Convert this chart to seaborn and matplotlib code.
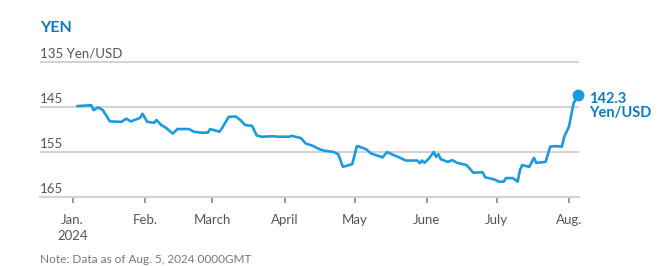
import matplotlib
matplotlib.use("Agg")
import matplotlib.pyplot as plt
import matplotlib.transforms as mtransforms
import seaborn as sns
import pandas as pd

dates = [
    "2024-01-03", "2024-01-09", "2024-01-10", "2024-01-12", "2024-01-14", "2024-01-17",
    "2024-01-22", "2024-01-24", "2024-01-26", "2024-01-29", "2024-01-30", "2024-01-31",
    "2024-02-02", "2024-02-05", "2024-02-06", "2024-02-08", "2024-02-10", "2024-02-13",
    "2024-02-15", "2024-02-20", "2024-02-22", "2024-02-25", "2024-02-28", "2024-02-29",
    "2024-03-04", "2024-03-05", "2024-03-08", "2024-03-11", "2024-03-13", "2024-03-15",
    "2024-03-18", "2024-03-20", "2024-03-22", "2024-03-27", "2024-03-29", "2024-04-03",
    "2024-04-04", "2024-04-08", "2024-04-10", "2024-04-13", "2024-04-16", "2024-04-18",
    "2024-04-22", "2024-04-24", "2024-04-26", "2024-04-30", "2024-05-02", "2024-05-03",
    "2024-05-06", "2024-05-08", "2024-05-13", "2024-05-15", "2024-05-17", "2024-05-21",
    "2024-05-23", "2024-05-28", "2024-05-29", "2024-05-30", "2024-05-31", "2024-06-02",
    "2024-06-04", "2024-06-05", "2024-06-06", "2024-06-07", "2024-06-10", "2024-06-12",
    "2024-06-14", "2024-06-18", "2024-06-21", "2024-06-25", "2024-06-26", "2024-06-30",
    "2024-07-02", "2024-07-04", "2024-07-05", "2024-07-08", "2024-07-10", "2024-07-11",
    "2024-07-12", "2024-07-15", "2024-07-17", "2024-07-18", "2024-07-22", "2024-07-24",
    "2024-07-26", "2024-07-29", "2024-07-30", "2024-08-01", "2024-08-02", "2024-08-03",
    "2024-08-05",
]
yen_per_usd = [
    144.8, 144.6, 145.7, 145.1, 145.7, 148.2,
    148.3, 147.6, 148.2, 147.6, 147.4, 146.5,
    148.3, 148.5, 147.9, 149.0, 149.6, 150.9,
    149.9, 149.9, 150.5, 150.7, 150.7, 149.9,
    150.5, 149.8, 147.2, 147.1, 147.9, 149.0,
    149.2, 151.3, 151.6, 151.5, 151.6, 151.6,
    151.4, 151.9, 153.1, 153.6, 154.4, 154.7,
    155.0, 155.5, 158.3, 157.7, 153.7, 153.8,
    154.4, 155.3, 156.2, 155.0, 155.5, 156.4,
    156.9, 156.9, 157.5, 156.9, 157.4, 156.4,
    155.0, 156.1, 155.5, 156.6, 157.2, 156.8,
    157.4, 157.9, 159.6, 159.5, 160.6, 161.1,
    161.6, 161.6, 160.8, 160.8, 161.6, 159.0,
    157.9, 158.3, 156.3, 157.4, 157.2, 153.8,
    153.7, 153.8, 151.6, 149.4, 146.8, 144.2,
    142.3,
]
y_ticks = [135, 145, 155, 165]
y_tick_labels = ["135 Yen/USD", "145", "155", "165"]
month_ticks = ["2024-01-01", "2024-02-01", "2024-03-01", "2024-04-01",
               "2024-05-01", "2024-06-01", "2024-07-01", "2024-08-01"]
month_labels = ["Jan.\n2024", "Feb.", "March", "April", "May", "June", "July", "Aug."]
title = "YEN"
last_label = "142.3\nYen/USD"
note = "Note: Data as of Aug. 5, 2024 0000GMT"

df = pd.DataFrame({"date": pd.to_datetime(dates), "value": yen_per_usd})

sns.set_theme(style="white")
plt.rcParams["font.family"] = ["Lato", "DejaVu Sans"]

LINE = "#1a9be0"
TITLE_C = "#0a7cc1"
GRID = "#cfcfcf"
TXT = "#555555"

fig = plt.figure(figsize=(6.66, 2.66), dpi=100)
W, H = 666, 266
ax = fig.add_axes([40 / W, (H - 197) / H, (579 - 40) / W, (197 - 53) / H])

sns.lineplot(data=df, x="date", y="value", ax=ax, color=LINE, linewidth=1.9)
ax.plot(df["date"].iloc[-1], df["value"].iloc[-1], "o", color=LINE, markersize=7.5,
        clip_on=False, zorder=5)

ax.set_ylim(165, 133)
ax.set_xlim(pd.Timestamp("2023-12-18"), pd.Timestamp("2024-08-05 08:00"))

for s in ["top", "right", "left"]:
    ax.spines[s].set_visible(False)
ax.spines["bottom"].set_color(GRID)
ax.spines["bottom"].set_linewidth(1.3)

for v in y_ticks[:-1]:
    ax.axhline(v, color=GRID, linewidth=1.3, zorder=0)

ax.set_yticks([])
trans = mtransforms.blended_transform_factory(ax.transAxes, ax.transData)
for v, lab in zip(y_ticks, y_tick_labels):
    ax.text(0, v - 0.5, lab, transform=trans, ha="left", va="bottom",
            fontsize=9.5, color=TXT)

ax.set_xticks(pd.to_datetime(month_ticks))
ax.set_xticklabels(month_labels, fontsize=9.5, color=TXT, linespacing=1.45)
ax.tick_params(axis="x", length=4, width=1.2, color="#888888", pad=8, bottom=True)
ax.set_xlabel("")
ax.set_ylabel("")

ax.annotate(last_label, xy=(df["date"].iloc[-1], df["value"].iloc[-1]),
            xytext=(8, 2), textcoords="offset points", ha="left", va="top",
            fontsize=10.5, fontweight="bold", color=TITLE_C, linespacing=1.0,
            annotation_clip=False)

fig.text(40 / W, (H - 21) / H, title, ha="left", va="top", fontsize=11.5,
         fontweight="bold", color=TITLE_C)
fig.text(40 / W, (H - 254) / H, note, ha="left", va="top", fontsize=8.5,
         color="#777777")

fig.savefig("out.png", dpi=100)
